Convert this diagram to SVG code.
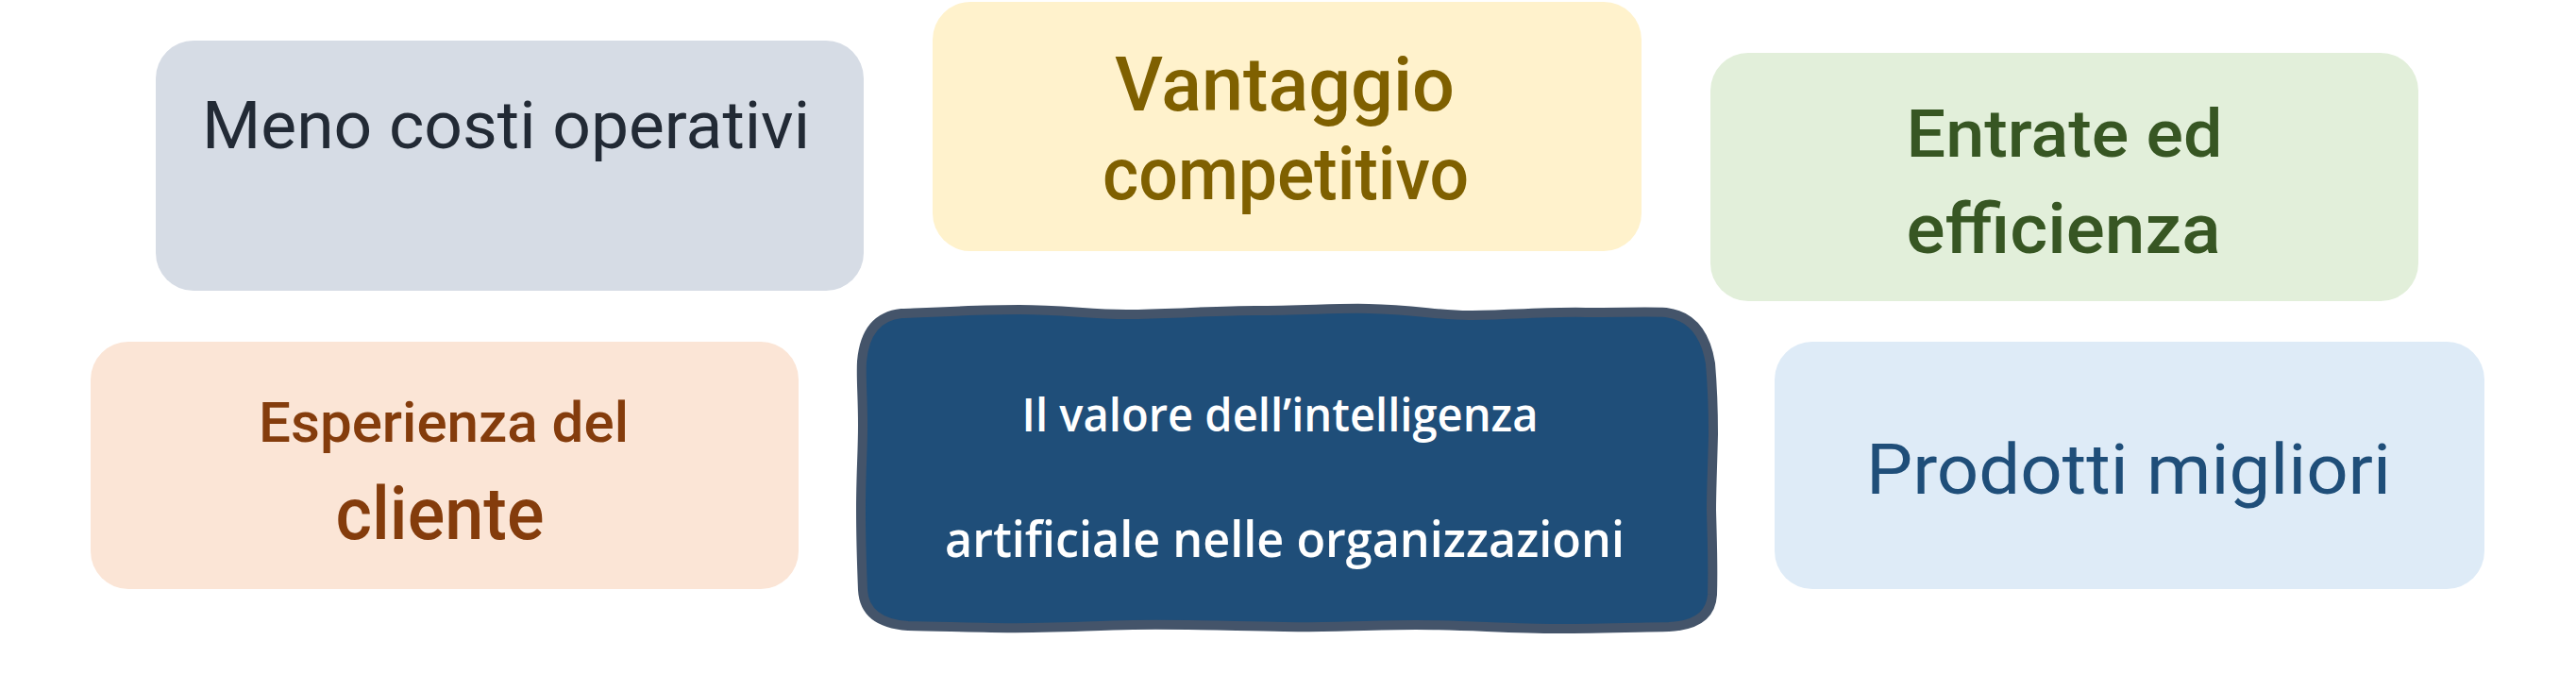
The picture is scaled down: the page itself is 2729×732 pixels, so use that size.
<svg xmlns="http://www.w3.org/2000/svg" width="2729" height="732" viewBox="0 0 2729 732">
<style>
  .lbl { font-family: Roboto, "Liberation Sans", Arial, sans-serif; font-weight: 400; text-anchor: middle; }
  .med { font-weight: 500; }
  .ctr { font-family: "Open Sans", "Noto Sans", sans-serif; font-weight: 600; text-anchor: middle; fill: #FFFFFF; }
  .box { stroke: none; }
</style>
<rect x="0" y="0" width="2729" height="732" fill="#FFFFFF"/>
<g id="connectors"></g>
<g id="node-costi">
  <rect class="box" x="165" y="43" width="750" height="265" rx="40" ry="40" fill="#D6DCE5"/>
  <text class="lbl" x="536" y="157" font-size="70" fill="#222A35" textLength="644" lengthAdjust="spacingAndGlyphs">Meno costi operativi</text>
</g>
<g id="node-vantaggio">
  <rect class="box" x="988" y="2" width="751" height="264" rx="40" ry="40" fill="#FFF2CC"/>
  <text class="lbl med" x="1361" y="117" font-size="79" fill="#7F6000" textLength="360" lengthAdjust="spacingAndGlyphs">Vantaggio</text>
  <text class="lbl med" x="1362" y="211" font-size="78" fill="#7F6000" textLength="388" lengthAdjust="spacingAndGlyphs">competitivo</text>
</g>
<g id="node-entrate">
  <rect class="box" x="1812" y="56" width="750" height="263" rx="40" ry="40" fill="#E2EFDA"/>
  <text class="lbl med" x="2187" y="166" font-size="71" fill="#375623" textLength="335" lengthAdjust="spacingAndGlyphs">Entrate ed</text>
  <text class="lbl med" x="2186" y="268" font-size="75" fill="#375623" textLength="333" lengthAdjust="spacingAndGlyphs">efficienza</text>
</g>
<g id="node-esperienza">
  <rect class="box" x="96" y="362" width="750" height="262" rx="40" ry="40" fill="#FBE5D6"/>
  <text class="lbl med" x="470" y="468" font-size="59" fill="#843C0C" textLength="392" lengthAdjust="spacingAndGlyphs">Esperienza del</text>
  <text class="lbl med" x="466" y="571" font-size="77" fill="#843C0C" textLength="221" lengthAdjust="spacingAndGlyphs">cliente</text>
</g>
<g id="node-prodotti">
  <rect class="box" x="1880" y="362" width="752" height="262" rx="40" ry="40" fill="#DEEBF7"/>
  <text class="lbl" x="2255" y="523" font-size="75" fill="#1F4E79" textLength="556" lengthAdjust="spacingAndGlyphs">Prodotti migliori</text>
</g>
<g id="node-centro">
  <path d="M 955,332 C 1000,330 1040,328 1080,328 C 1130,328 1160,334 1200,333 C 1250,332 1290,329 1330,329 C 1380,329 1420,326 1450,327 C 1500,328 1530,335 1560,334 C 1610,333 1650,330 1680,331 C 1720,331 1750,330 1765,331 Q 1804,336 1812,385 C 1815,420 1815,440 1815,460 C 1814,500 1813,520 1813,540 C 1814,580 1815,600 1814,630 Q 1812,662 1768,664 C 1720,665 1690,666 1650,666 C 1600,666 1550,662 1500,662 C 1450,662 1400,665 1360,664 C 1300,663 1250,661 1200,662 C 1150,663 1100,666 1050,665 C 1010,664 990,664 962,663 Q 916,660 914,625 C 913,600 912,570 912,540 C 912,500 914,480 914,450 C 914,420 912,400 913,383 Q 917,336 955,332 Z" fill="#1F4E79" stroke="#44546A" stroke-width="10" stroke-linejoin="round"/>
  <text class="ctr" x="1356" y="457" font-size="48" textLength="547" lengthAdjust="spacingAndGlyphs">Il valore dell’intelligenza</text>
  <text class="ctr" x="1361" y="590" font-size="52" textLength="720" lengthAdjust="spacingAndGlyphs">artificiale nelle organizzazioni</text>
</g>
</svg>
